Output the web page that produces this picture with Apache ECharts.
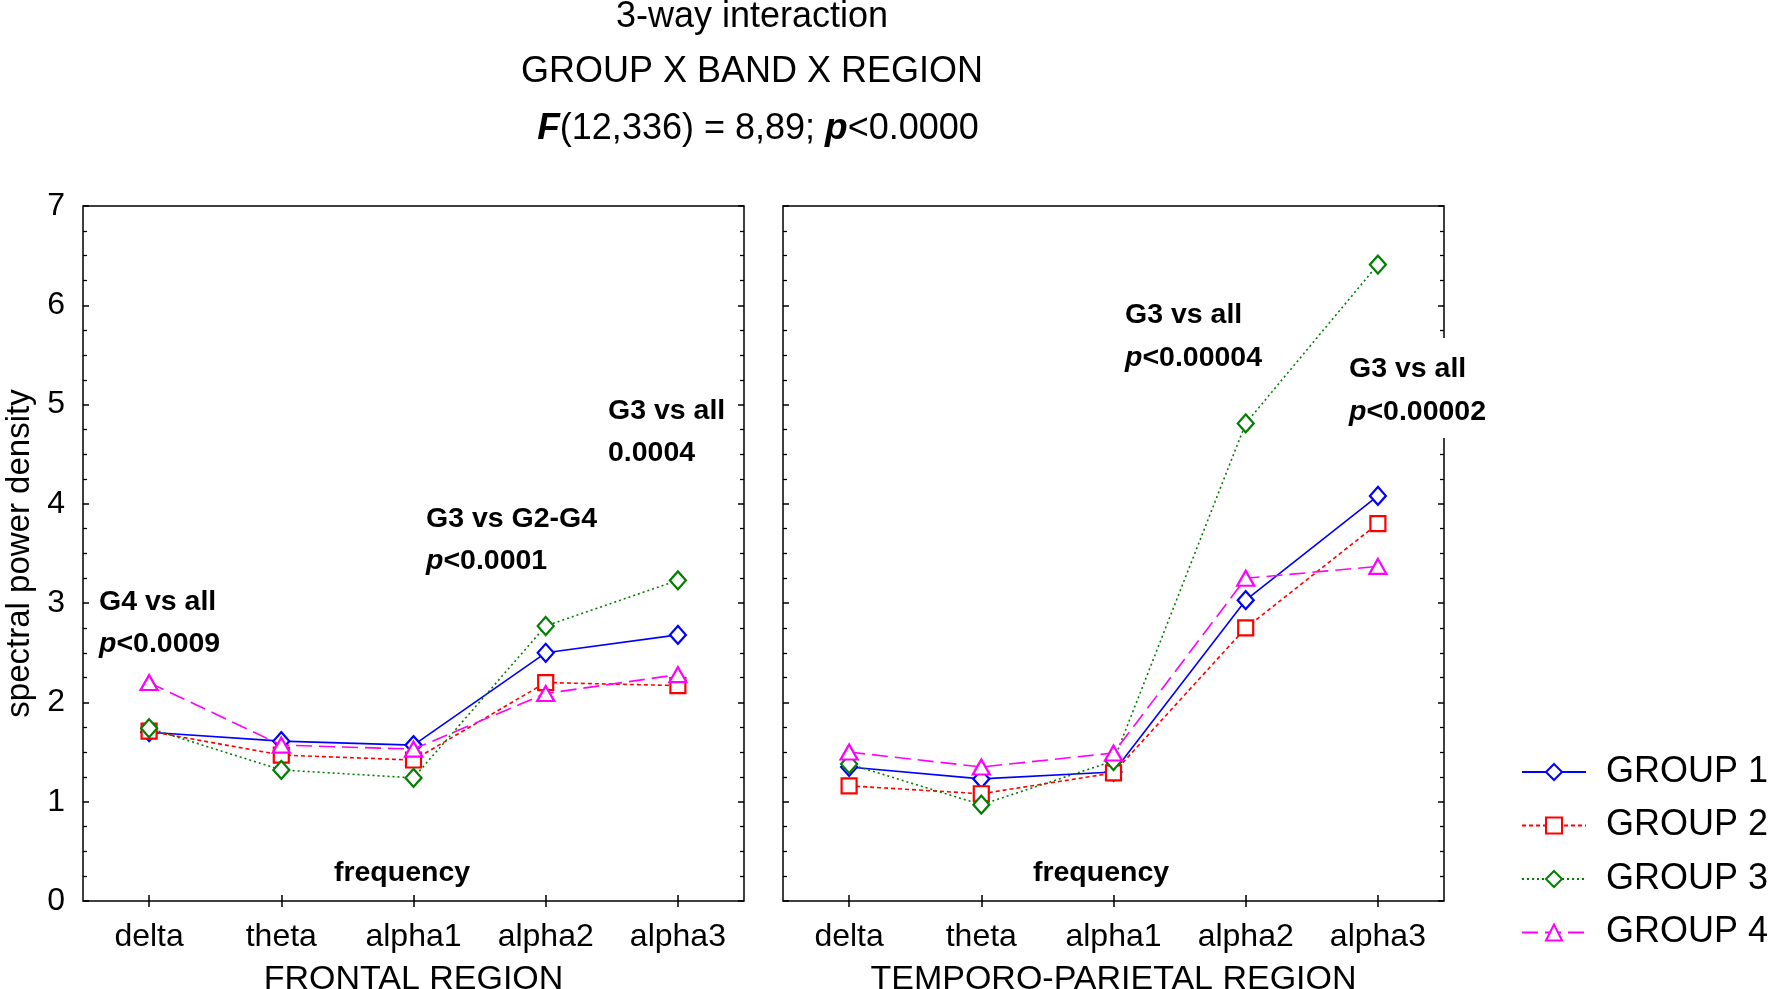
<!DOCTYPE html>
<html>
<head>
<meta charset="utf-8">
<script src="https://cdn.jsdelivr.net/npm/echarts@6/dist/echarts.min.js"></script>
<style>
  html, body { margin: 0; padding: 0; background: #fff; }
  #chart-panel { width: 1772px; height: 989px; }
</style>
</head>
<body>
<div id="chart-panel"></div>
<script>
var bands = ['delta', 'theta', 'alpha1', 'alpha2', 'alpha3'];
var groups = ['GROUP 1', 'GROUP 2', 'GROUP 3', 'GROUP 4'];
var yTicks = [0, 1, 2, 3, 4, 5, 6, 7];

// frontal region, one array per group (delta .. alpha3)
var frontalG1 = [1.70, 1.61, 1.57, 2.50, 2.68];
var frontalG2 = [1.71, 1.47, 1.42, 2.20, 2.17];
var frontalG3 = [1.74, 1.32, 1.24, 2.77, 3.23];
var frontalG4 = [2.20, 1.57, 1.53, 2.09, 2.28];

// temporo-parietal region
var temporalG1 = [1.35, 1.23, 1.30, 3.03, 4.08];
var temporalG2 = [1.16, 1.08, 1.29, 2.75, 3.80];
var temporalG3 = [1.38, 0.97, 1.41, 4.81, 6.41];
var temporalG4 = [1.50, 1.35, 1.49, 3.25, 3.37];

var FONT = '"Liberation Sans", Arial, sans-serif';

var styles = [
    { color: '#0000ff', type: 'solid', symbol: 'diamond', size: [16, 18] },
    { color: '#ff0000', type: [4, 3], symbol: 'rect', size: [15, 15] },
    { color: '#008000', type: [2, 3], symbol: 'diamond', size: [16, 18] },
    { color: '#ff00ff', type: [16, 7], symbol: 'triangle', size: [17, 15] }
];

var myChart = echarts.init(document.getElementById('chart-panel'));

function makeSeries(name, idx, data, gridIdx) {
    var s = styles[idx];
    return {
        name: name,
        type: 'line',
        xAxisIndex: gridIdx * 2,
        yAxisIndex: gridIdx * 2,
        data: data,
        symbol: s.symbol,
        symbolSize: s.size,
        showAllSymbol: true,
        color: s.color,
        lineStyle: { color: s.color, width: 1.6, type: s.type },
        itemStyle: { color: '#fff', borderColor: s.color, borderWidth: 2.2 },
        emphasis: { disabled: true },
        z: 3 + idx
    };
}

function bottomX(gridIdx, name) {
    return {
        type: 'category', gridIndex: gridIdx, data: bands, position: 'bottom',
        boundaryGap: true,
        name: name, nameLocation: 'middle', nameGap: 62,
        nameTextStyle: { fontFamily: FONT, fontSize: 34, color: '#000' },
        axisLine: { show: false },
        axisTick: { show: true, inside: true, alignWithLabel: true, length: 6, lineStyle: { color: '#000', width: 1.5 } },
        axisLabel: { fontFamily: FONT, fontSize: 32, color: '#000', margin: 20 },
        splitLine: { show: false }
    };
}
function topX(gridIdx) {
    return {
        type: 'category', gridIndex: gridIdx, data: bands, position: 'top',
        boundaryGap: true,
        axisLine: { show: false },
        axisTick: { show: true, inside: true, alignWithLabel: true, length: 6, lineStyle: { color: '#000', width: 1.5 } },
        axisLabel: { show: false },
        splitLine: { show: false }
    };
}
function sideY(gridIdx, pos, withLabels) {
    var ax = {
        type: 'value', gridIndex: gridIdx, position: pos,
        min: yTicks[0], max: yTicks[yTicks.length - 1], interval: 1,
        axisLine: { show: false },
        axisTick: { show: true, inside: true, length: 6, lineStyle: { color: '#000', width: 1.5 } },
        minorTick: { show: true, splitNumber: 4, length: 4, lineStyle: { color: '#000', width: 1.3 } },
        axisLabel: { show: withLabels, fontFamily: FONT, fontSize: 32, color: '#000', margin: 18 },
        splitLine: { show: false }
    };
    if (withLabels) {
        ax.name = 'spectral power density';
        ax.nameLocation = 'middle';
        ax.nameGap = 47;
        ax.nameTextStyle = { fontFamily: FONT, fontSize: 33, color: '#000' };
    }
    return ax;
}

var richP = { p: { fontFamily: FONT, fontSize: 28.5, fontWeight: 'bold', fontStyle: 'italic', fill: '#000' } };

function note(x, y, text) {
    return {
        type: 'text', z: 100,
        style: {
            text: text, x: x, y: y, font: 'bold 28.5px ' + FONT, fill: '#000',
            textVerticalAlign: 'middle', rich: richP
        }
    };
}

var gridBase = { width: 661, height: 695, top: 206, show: true, borderColor: '#000', borderWidth: 1.5,
    backgroundColor: 'transparent', outerBoundsMode: 'none', containLabel: false };

myChart.setOption({
    backgroundColor: '#fff',
    animation: false,
    grid: [
        Object.assign({ left: 83 }, gridBase),
        Object.assign({ left: 783 }, gridBase)
    ],
    xAxis: [bottomX(0, 'FRONTAL REGION'), topX(0), bottomX(1, 'TEMPORO-PARIETAL REGION'), topX(1)],
    yAxis: [sideY(0, 'left', true), sideY(0, 'right', false), sideY(1, 'left', false), sideY(1, 'right', false)],
    legend: {
        orient: 'vertical', left: 1516, top: 749,
        data: groups,
        itemWidth: 64, itemHeight: 20, itemGap: 17.5,
        selectedMode: false,
        textStyle: { fontFamily: FONT, fontSize: 36, color: '#000', padding: [0, 0, 0, 15] }
    },
    graphic: [
        { type: 'text', z: 100, style: { text: '3-way interaction', x: 752, y: 17, font: '36px ' + FONT, fill: '#000', textAlign: 'center', textVerticalAlign: 'middle' } },
        { type: 'text', z: 100, style: { text: 'GROUP X BAND X REGION', x: 752, y: 72, font: '36px ' + FONT, fill: '#000', textAlign: 'center', textVerticalAlign: 'middle' } },
        { type: 'text', z: 100, style: {
            text: '{b|F}(12,336) = 8,89; {b|p}<0.0000', x: 758, y: 129, font: '36px ' + FONT, fill: '#000',
            textAlign: 'center', textVerticalAlign: 'middle',
            rich: { b: { fontFamily: FONT, fontSize: 37, fontWeight: 'bold', fontStyle: 'italic', fill: '#000' } }
        } },
        { type: 'text', z: 100, style: { text: 'frequency', x: 402, y: 873, font: 'bold 28.5px ' + FONT, fill: '#000', textAlign: 'center', textVerticalAlign: 'middle' } },
        { type: 'text', z: 100, style: { text: 'frequency', x: 1101, y: 873, font: 'bold 28.5px ' + FONT, fill: '#000', textAlign: 'center', textVerticalAlign: 'middle' } },
        note(99, 602, 'G4 vs all'),
        note(99, 644, '{p|p}<0.0009'),
        note(426, 519, 'G3 vs G2-G4'),
        note(426, 561, '{p|p}<0.0001'),
        note(608, 411, 'G3 vs all'),
        note(608, 453, '0.0004'),
        note(1125, 315, 'G3 vs all'),
        note(1125, 358, '{p|p}<0.00004'),
        { type: 'text', z: 100, style: {
            text: 'G3 vs all\n{p|p}<0.00002', x: 1343, y: 338, font: 'bold 28.5px ' + FONT, fill: '#000',
            textVerticalAlign: 'top', lineHeight: 43, backgroundColor: '#fff', padding: [10, 4, 4, 6],
            rich: { p: { fontFamily: FONT, fontSize: 28.5, fontWeight: 'bold', fontStyle: 'italic', fill: '#000', lineHeight: 43 } }
        } }
    ],
    series: [
        makeSeries(groups[0], 0, frontalG1, 0),
        makeSeries(groups[1], 1, frontalG2, 0),
        makeSeries(groups[2], 2, frontalG3, 0),
        makeSeries(groups[3], 3, frontalG4, 0),
        makeSeries(groups[0], 0, temporalG1, 1),
        makeSeries(groups[1], 1, temporalG2, 1),
        makeSeries(groups[2], 2, temporalG3, 1),
        makeSeries(groups[3], 3, temporalG4, 1)
    ]
});
</script>
</body>
</html>
